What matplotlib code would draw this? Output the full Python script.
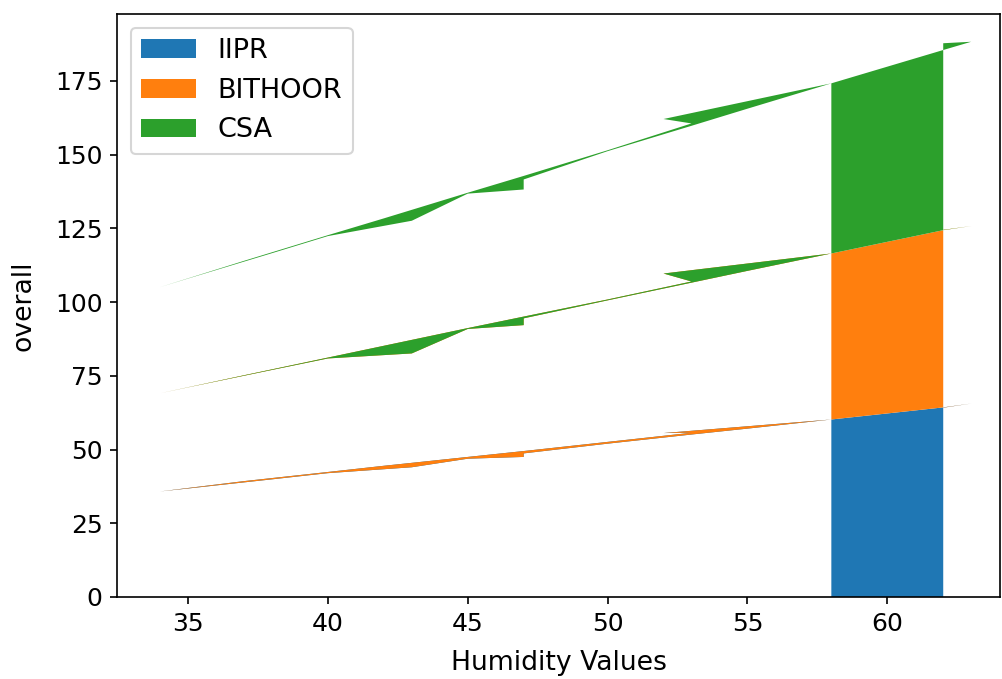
import matplotlib
matplotlib.use("Agg")
import matplotlib.pyplot as plt

# humidity readings in the order they appear in the data (not sorted)
humidity = [62, 63, 62, 58, 52, 53, 50, 47, 45, 42, 40, 37, 34,
            35, 38, 40, 43, 45, 47, 47, 50, 53, 55, 58]

iipr = [64.2, 65.6, 64.3, 60.2, 55.6, 55.7, 52.6, 49.5, 47.5, 44.5, 42.4, 39.3, 35.8,
        36.8, 39.9, 42.0, 44.0, 46.9, 47.5, 48.7, 52.0, 55.1, 57.1, 60.2]
bithoor = [60.3, 60.2, 60.1, 56.3, 54.1, 51.3, 48.3, 45.6, 43.7, 40.7, 38.8, 35.9, 33.3,
           34.3, 37.1, 38.9, 38.6, 44.0, 44.7, 45.8, 48.6, 51.5, 53.5, 56.3]
csa = [63.3, 62.5, 61.1, 57.7, 52.4, 53.6, 50.6, 47.7, 45.9, 43.2, 41.5, 38.8, 36.0,
       36.9, 39.6, 41.5, 45.0, 45.9, 46.0, 47.1, 50.6, 53.2, 55.0, 57.7]
labels = ["IIPR", "BITHOOR", "CSA"]

plt.rcParams["font.size"] = 12

fig = plt.figure(figsize=(1002 / 150, 679 / 150), dpi=150)
ax = fig.add_axes([117 / 1002, 82 / 679, 883 / 1002, 583 / 679])

ax.stackplot(humidity, iipr, bithoor, csa, labels=labels)
ax.set_xlim(32.46, 64.03)
ax.set_xlabel("Humidity Values", fontsize=12.8, labelpad=7)
ax.set_ylabel("overall", fontsize=12.8, labelpad=9)
ax.legend(loc="upper left", fontsize=13)

fig.savefig("out.png", dpi=150)
